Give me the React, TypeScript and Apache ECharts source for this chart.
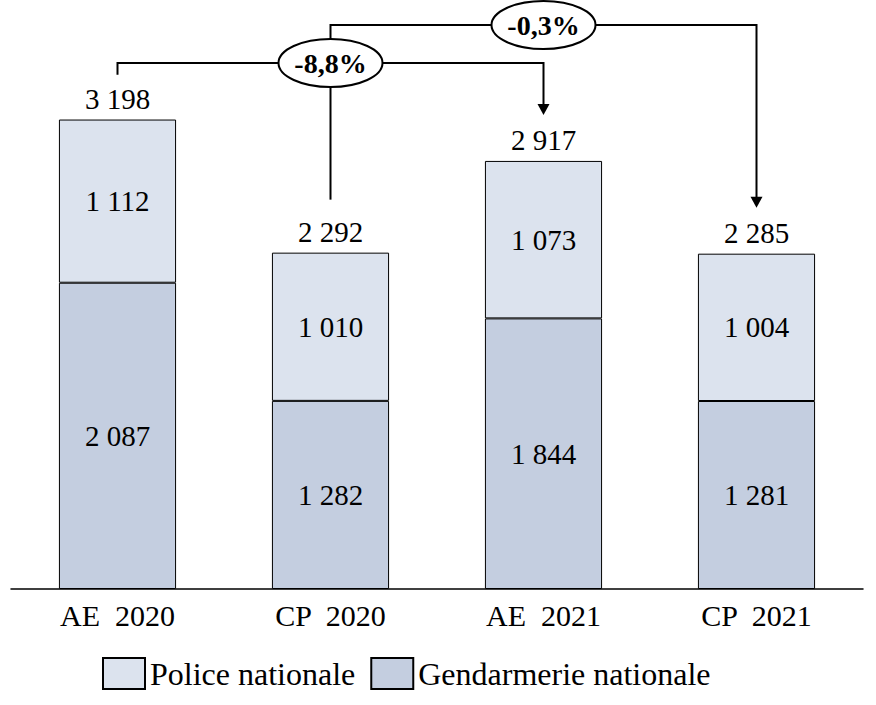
import React, { useEffect, useRef } from "react";
import * as echarts from "echarts";

const categories = ["AE  2020", "CP  2020", "AE  2021", "CP  2021"];
const police = [1112, 1010, 1073, 1004];
const gendarmerie = [2087, 1282, 1844, 1281];
const totals = [3198, 2292, 2917, 2285];
const changes = [
  { label: "-8,8%", from: 0, via: 1, to: 2 },
  { label: "-0,3%", from: 1, via: 2, to: 3 },
];

const FONT = "Liberation Serif";
const fmt = (n: number) => String(n).replace(/\B(?=(\d{3})+(?!\d))/g, " ");

export default function App() {
  const ref = useRef<HTMLDivElement>(null);
  useEffect(() => {
    const chart = echarts.init(ref.current!, null, { renderer: "svg" });
    const barLabel = {
      show: true,
      position: "inside",
      fontSize: 29,
      fontFamily: FONT,
      color: "#000",
      formatter: (p: any) => fmt(p.value),
    };
    chart.setOption({
      animation: false,
      textStyle: { fontFamily: FONT },
      grid: { left: 11, right: 13, top: 2, bottom: 116, containLabel: false },
      legend: {
        data: ["Police nationale", "Gendarmerie nationale"],
        left: 97,
        top: 652,
        itemWidth: 42,
        itemHeight: 31,
        itemGap: 15,
        icon: "rect",
        selectedMode: false,
        textStyle: { fontSize: 32, fontFamily: FONT, color: "#000" },
        itemStyle: { borderColor: "#000", borderWidth: 2 },
      },
      xAxis: {
        type: "category",
        data: categories,
        axisLine: { lineStyle: { color: "#000", width: 1.5 } },
        axisTick: { show: false },
        axisLabel: { fontSize: 30, fontFamily: FONT, color: "#000", margin: 11 },
      },
      yAxis: { type: "value", min: 0, max: 4000, show: false, splitLine: { show: false } },
      series: [
        {
          name: "Gendarmerie nationale",
          type: "bar",
          stack: "s",
          barWidth: "55%",
          data: gendarmerie,
          itemStyle: { color: "#C4CEE0", borderColor: "#000", borderWidth: 1 },
          label: barLabel,
        },
        {
          name: "Police nationale",
          type: "bar",
          stack: "s",
          barWidth: "55%",
          data: police,
          itemStyle: { color: "#DCE3EE", borderColor: "#000", borderWidth: 1 },
          label: barLabel,
        },
        {
          name: "Total",
          type: "bar",
          stack: "s",
          barWidth: "55%",
          data: totals.map(() => 0),
          silent: true,
          itemStyle: { color: "transparent", borderWidth: 0 },
          label: {
            show: true,
            position: "top",
            distance: 6,
            fontSize: 29,
            fontFamily: FONT,
            color: "#000",
            formatter: (p: any) => fmt(totals[p.dataIndex]),
          },
        },
      ],
    });

    const cx = categories.map((_, i) => chart.convertToPixel({ xAxisIndex: 0 }, i) as number);
    const top = totals.map((t) => chart.convertToPixel({ yAxisIndex: 0 }, t) as number);
    const levels = [63, 25];
    const RX = 52;
    const RY = 24;
    const clear = 46;
    const AH = 11;
    const AW = 6;
    const lineStyle = { stroke: "#000", lineWidth: 2, fill: null };
    const g: any[] = [];
    changes.forEach((c, k) => {
      const y = levels[k];
      const startY = k === 0 ? top[c.from] - 45 : levels[k - 1] - RY;
      const tipY = top[c.to] - clear;
      g.push({
        type: "polyline",
        z: 5,
        shape: {
          points: [
            [cx[c.from], startY],
            [cx[c.from], y],
            [cx[c.to], y],
            [cx[c.to], tipY - AH + 1],
          ],
        },
        style: lineStyle,
      });
      g.push({
        type: "polygon",
        z: 5,
        shape: {
          points: [
            [cx[c.to] - AW, tipY - AH],
            [cx[c.to] + AW, tipY - AH],
            [cx[c.to], tipY],
          ],
        },
        style: { fill: "#000" },
      });
      if (k === 0) {
        g.push({
          type: "line",
          z: 5,
          shape: { x1: cx[c.via], y1: y, x2: cx[c.via], y2: top[c.via] - 53 },
          style: lineStyle,
        });
      }
      g.push({
        type: "ellipse",
        z: 10,
        shape: { cx: cx[c.via], cy: y, rx: RX, ry: RY },
        style: { fill: "#fff", stroke: "#000", lineWidth: 2 },
      });
      g.push({
        type: "text",
        z: 11,
        x: cx[c.via],
        y: y,
        style: {
          text: c.label,
          fontSize: 28,
          fontWeight: "bold",
          fontFamily: FONT,
          fill: "#000",
          align: "center",
          verticalAlign: "middle",
        },
      });
    });
    chart.setOption({ graphic: g });
    return () => chart.dispose();
  }, []);
  return (
    <div
      ref={ref}
      style={{ position: "absolute", left: 0, top: 0, width: 876, height: 705 }}
    />
  );
}
